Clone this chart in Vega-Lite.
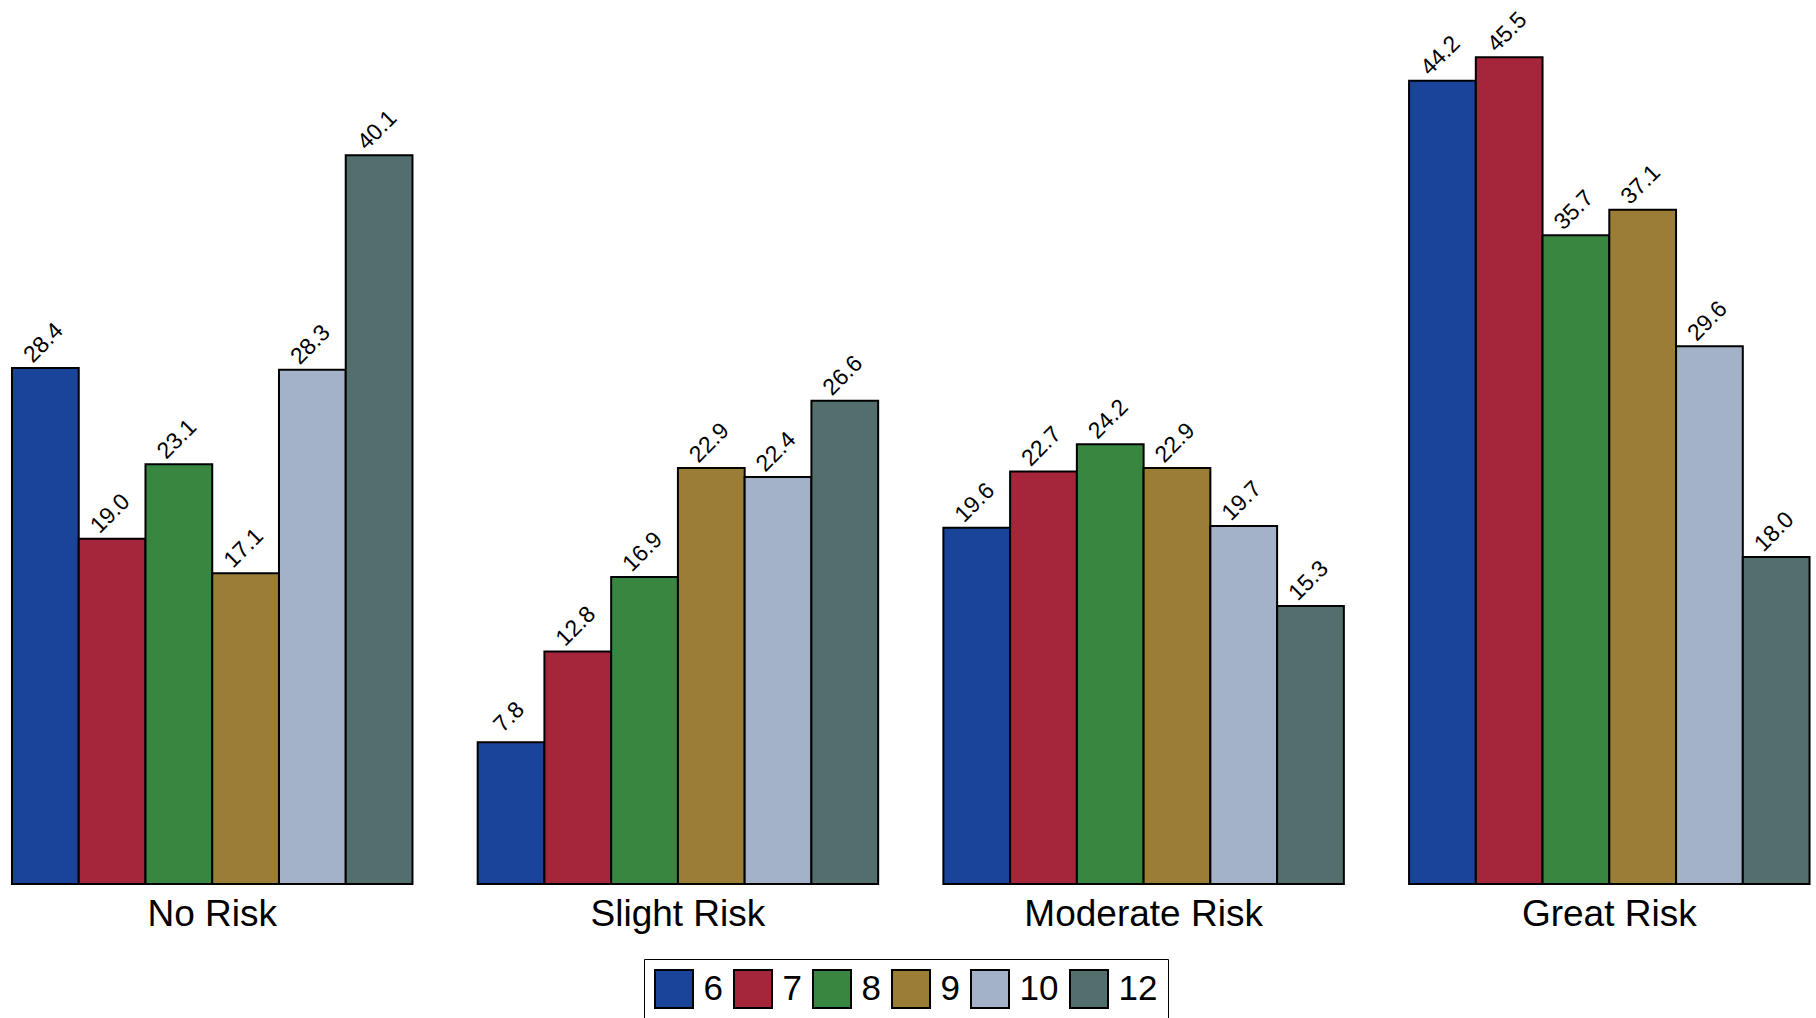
{
  "$schema": "https://vega.github.io/schema/vega-lite/v6.json",
  "width": 1816,
  "height": 884,
  "autosize": "none",
  "padding": {"left": 0, "top": 0, "right": 0, "bottom": 134},
  "background": "white",
  "config": {"view": {"stroke": null}, "font": "Liberation Sans"},
  "data": {"values": [
    {"risk": "No Risk", "grade": "6", "pct": 28.4},
    {"risk": "No Risk", "grade": "7", "pct": 19.0},
    {"risk": "No Risk", "grade": "8", "pct": 23.1},
    {"risk": "No Risk", "grade": "9", "pct": 17.1},
    {"risk": "No Risk", "grade": "10", "pct": 28.3},
    {"risk": "No Risk", "grade": "12", "pct": 40.1},
    {"risk": "Slight Risk", "grade": "6", "pct": 7.8},
    {"risk": "Slight Risk", "grade": "7", "pct": 12.8},
    {"risk": "Slight Risk", "grade": "8", "pct": 16.9},
    {"risk": "Slight Risk", "grade": "9", "pct": 22.9},
    {"risk": "Slight Risk", "grade": "10", "pct": 22.4},
    {"risk": "Slight Risk", "grade": "12", "pct": 26.6},
    {"risk": "Moderate Risk", "grade": "6", "pct": 19.6},
    {"risk": "Moderate Risk", "grade": "7", "pct": 22.7},
    {"risk": "Moderate Risk", "grade": "8", "pct": 24.2},
    {"risk": "Moderate Risk", "grade": "9", "pct": 22.9},
    {"risk": "Moderate Risk", "grade": "10", "pct": 19.7},
    {"risk": "Moderate Risk", "grade": "12", "pct": 15.3},
    {"risk": "Great Risk", "grade": "6", "pct": 44.2},
    {"risk": "Great Risk", "grade": "7", "pct": 45.5},
    {"risk": "Great Risk", "grade": "8", "pct": 35.7},
    {"risk": "Great Risk", "grade": "9", "pct": 37.1},
    {"risk": "Great Risk", "grade": "10", "pct": 29.6},
    {"risk": "Great Risk", "grade": "12", "pct": 18.0}
  ]},
  "encoding": {
    "x": {
      "field": "risk", "type": "nominal",
      "scale": {"domain": ["No Risk", "Slight Risk", "Moderate Risk", "Great Risk"], "paddingInner": 0.14, "paddingOuter": 0.0198, "align": 0.65},
      "axis": {"title": null, "domain": false, "ticks": false, "labelAngle": 0, "labelFontSize": 37, "labelColor": "black", "labelPadding": 12, "labelLimit": 0, "labelFont": "Liberation Sans"}
    },
    "xOffset": {
      "field": "grade", "type": "nominal",
      "scale": {"domain": ["6", "7", "8", "9", "10", "12"], "paddingInner": 0, "paddingOuter": 0}
    },
    "y": {
      "field": "pct", "type": "quantitative",
      "scale": {"domain": [0, 48.65], "nice": false, "zero": true},
      "axis": null
    }
  },
  "layer": [
    {
      "mark": {"type": "bar", "stroke": "black", "strokeWidth": 2},
      "encoding": {
        "color": {
          "field": "grade", "type": "nominal",
          "scale": {"domain": ["6", "7", "8", "9", "10", "12"], "range": ["#1a449a", "#a5263b", "#398640", "#9b7d35", "#a3b1c9", "#526f6d"]},
          "legend": {
            "title": null, "orient": "none", "direction": "horizontal",
            "legendX": 644, "legendY": 959,
            "symbolType": "square", "symbolSize": 1444, "symbolStrokeColor": "black", "symbolStrokeWidth": 2, "symbolOpacity": 1,
            "labelFontSize": 35, "labelColor": "black", "labelOffset": 9.5, "labelFont": "Liberation Sans",
            "columnPadding": 7, "padding": 10,
            "strokeColor": "black", "fillColor": "white"
          }
        }
      }
    },
    {
      "mark": {"type": "text", "fontSize": 23, "angle": 315, "align": "center", "baseline": "alphabetic", "dx": 16.4, "dy": -12.0, "color": "black", "font": "Liberation Sans"},
      "encoding": {
        "text": {"field": "pct", "type": "quantitative", "format": ".1f"}
      }
    }
  ]
}
